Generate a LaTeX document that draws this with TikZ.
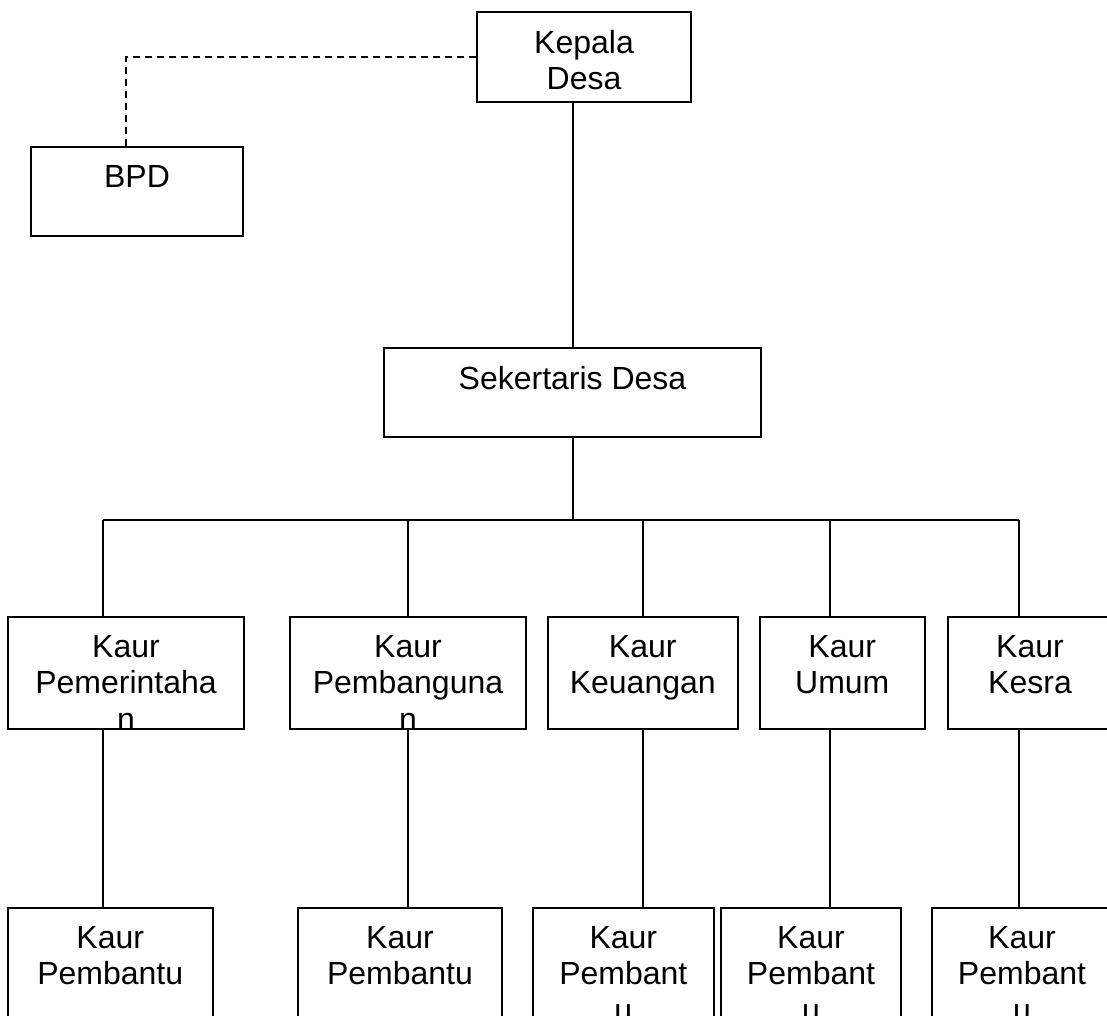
\documentclass[tikz,border=0pt]{standalone}
\usepackage{fontspec}
\usepackage{tikz}
\usetikzlibrary{positioning, calc}
\newfontfamily\orgfont{Liberation Sans}

\begin{document}
\begin{tikzpicture}[
    x=1pt, y=-1pt,
    unit/.style={
      rectangle, draw, line width=2pt, inner sep=0pt,
      path picture={
        \node[draw=none, inner sep=0pt, minimum size=0pt, anchor=north,
              align=center, font=\orgfont\fontsize{32}{36.5}\selectfont]
          at ([yshift=-17pt]path picture bounding box.north) {#1};
      }
    },
    kaur/.style={unit={#1}, minimum height=112pt},
    pembantu/.style={unit={#1}, minimum height=132pt},
    link/.style={line width=2pt},
    advice/.style={line width=2pt, dash pattern=on 7pt off 5pt},
  ]

  \useasboundingbox (0,0) rectangle (1107,1015);
  \clip (0,0) rectangle (1107,1015);
  \fill[white] (0,0) rectangle (1107,1015);

  %% ── Top ──
  \node[unit={Kepala\\Desa}, minimum width=214pt, minimum height=90pt] (kades) at (584,57) {};
  \node[unit={BPD}, minimum width=211.5pt, minimum height=89pt]        (bpd) at (137,191.5) {};
  \node[unit={Sekertaris Desa}, minimum width=377pt, minimum height=89pt] (sekdes) at (572.5,392.5) {};

  %% ── Kaur ──
  \node[kaur={Kaur\\Pemerintaha\\n}, minimum width=236pt]  (pem)   at (126,673) {};
  \node[kaur={Kaur\\Pembanguna\\n}, minimum width=236pt]   (pemb)  at (408,673) {};
  \node[kaur={Kaur\\Keuangan}, minimum width=189.5pt]      (keu)   at (642.75,673) {};
  \node[kaur={Kaur\\Umum}, minimum width=164.5pt]          (umum)  at (842.25,673) {};
  \node[kaur={Kaur\\Kesra}, minimum width=164pt]           (kesra) at (1030,673) {};

  %% ── Kaur Pembantu ──
  \node[pembantu={Kaur\\Pembantu}, minimum width=204.5pt]    (pbt1) at (110.25,974) {};
  \node[pembantu={Kaur\\Pembantu}, minimum width=204pt]      (pbt2) at (400,974) {};
  \node[pembantu={Kaur\\Pembant\\u}, minimum width=180.6pt]  (pbt3) at (623.3,974) {};
  \node[pembantu={Kaur\\Pembant\\u}, minimum width=180pt]    (pbt4) at (811,974) {};
  \node[pembantu={Kaur\\Pembant\\u}, minimum width=180pt]    (pbt5) at (1022,974) {};

  %% ── Bus ──
  \coordinate (b1) at (103,520);
  \coordinate (b2) at (408,520);
  \coordinate (b3) at (643,520);
  \coordinate (b4) at (830,520);
  \coordinate (b5) at (1019,520);

  %% ── Lines ──
  \draw[advice] (kades.west) -| ([xshift=-11pt]bpd.north);
  \draw[link] (sekdes.north |- kades.south) -- (sekdes.north);
  \draw[link] (sekdes.south) -- (sekdes.south |- b1);
  \draw[link] (b1) -- (b5);
  \draw[link] (b1) -- (b1 |- pem.north);
  \draw[link] (b2) -- (b2 |- pemb.north);
  \draw[link] (b3) -- (b3 |- keu.north);
  \draw[link] (b4) -- (b4 |- umum.north);
  \draw[link] (b5) -- (b5 |- kesra.north);
  \draw[link] (b1 |- pem.south)   -- (b1 |- pbt1.north);
  \draw[link] (b2 |- pemb.south)  -- (b2 |- pbt2.north);
  \draw[link] (b3 |- keu.south)   -- (b3 |- pbt3.north);
  \draw[link] (b4 |- umum.south)  -- (b4 |- pbt4.north);
  \draw[link] (b5 |- kesra.south) -- (b5 |- pbt5.north);

\end{tikzpicture}
\end{document}
